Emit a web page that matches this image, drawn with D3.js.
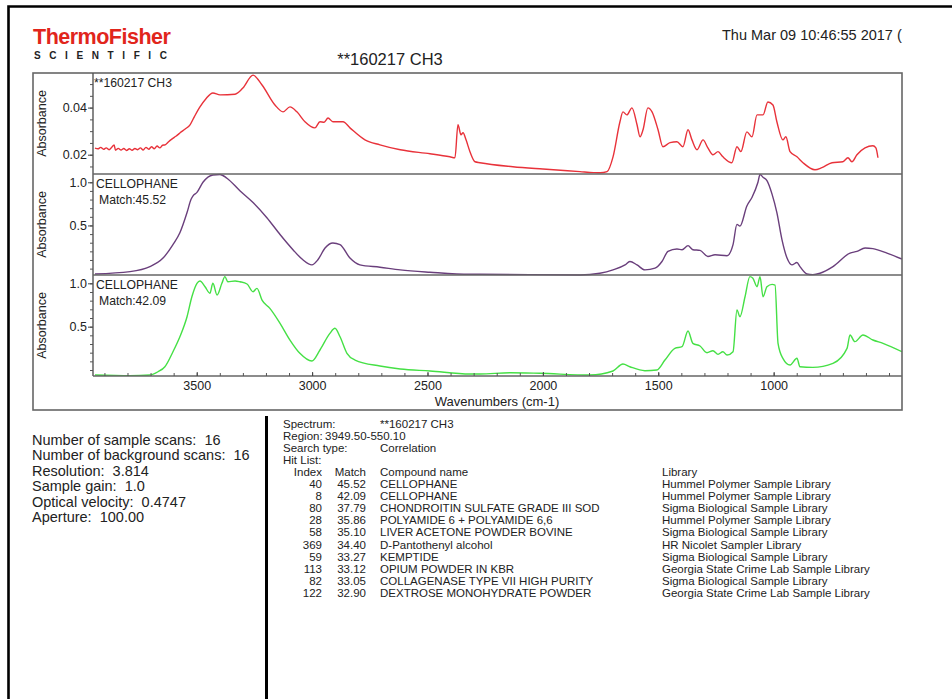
<!DOCTYPE html>
<html>
<head>
<meta charset="utf-8">
<script src="https://cdn.jsdelivr.net/npm/d3@7"></script>
<style>
  html, body { margin: 0; padding: 0; background: #fff; }
  svg { display: block; font-family: "Liberation Sans", Arial, sans-serif; }
</style>
</head>
<body>
<svg id="page" width="952" height="699"></svg>
<script>
// ---- spectra: [wavenumber (cm-1), absorbance] ----
const sampleSpectrum = [
  [3941,0.0228],[3928,0.0225],[3916,0.0231],[3904,0.0223],[3892,0.0229],[3880,0.0221],[3868,0.0232],
  [3858,0.0241],[3852,0.0219],[3840,0.0227],[3828,0.0220],[3816,0.0226],[3804,0.0218],[3792,0.0225],
  [3780,0.0219],[3768,0.0226],[3756,0.0221],[3744,0.0229],[3732,0.0220],[3720,0.0231],[3708,0.0223],
  [3696,0.0234],[3684,0.0225],[3672,0.0237],[3660,0.0229],[3648,0.0240],[3637,0.0242],[3622,0.0255],
  [3608,0.0266],[3594,0.0276],[3584,0.0283],[3572,0.0293],[3550,0.0309],[3529,0.0327],[3510,0.0362],
  [3486,0.0403],[3460,0.0438],[3430,0.0462],[3399,0.0454],[3334,0.0457],[3300,0.0483],[3256,0.0538],
  [3217,0.0496],[3161,0.0411],[3126,0.0382],[3096,0.0403],[3066,0.0382],[3031,0.0340],[2988,0.0314],
  [2966,0.0340],[2948,0.0338],[2931,0.0356],[2910,0.0340],[2866,0.0340],[2836,0.0314],[2771,0.0263],
  [2706,0.0242],[2618,0.0221],[2489,0.0204],[2403,0.0191],[2381,0.0187],[2368,0.0327],[2355,0.0285],
  [2346,0.0293],[2333,0.0263],[2316,0.0213],[2294,0.0170],[2273,0.0166],[2130,0.0149],[2000,0.0139],
  [1839,0.0128],[1780,0.0124],[1752,0.0123],[1722,0.0128],[1696,0.0191],[1666,0.0340],[1653,0.0382],
  [1636,0.0369],[1614,0.0399],[1592,0.0327],[1579,0.0276],[1566,0.0306],[1545,0.0399],[1527,0.0382],
  [1501,0.0306],[1480,0.0234],[1449,0.0251],[1419,0.0255],[1393,0.0234],[1371,0.0306],[1354,0.0263],
  [1332,0.0221],[1306,0.0263],[1285,0.0229],[1263,0.0200],[1241,0.0213],[1220,0.0191],[1181,0.0166],
  [1159,0.0234],[1142,0.0213],[1116,0.0297],[1094,0.0276],[1072,0.0369],[1046,0.0369],[1025,0.0424],
  [1003,0.0411],[986,0.0340],[960,0.0263],[947,0.0276],[929,0.0213],[899,0.0191],[873,0.0166],
  [821,0.0136],[791,0.0145],[747,0.0166],[700,0.0170],[678,0.0187],[661,0.0170],[639,0.0200],
  [604,0.0229],[570,0.0238],[557,0.0229],[548,0.0187]
];

const cellophane40 = [
  [3941,-0.062],[3789,-0.035],[3703,0.023],[3646,0.122],[3603,0.278],[3573,0.415],[3542,0.649],
  [3525,0.800],[3516,0.843],[3499,0.883],[3473,1.000],[3430,1.085],[3399,1.091],[3369,1.047],
  [3313,0.902],[3256,0.766],[3196,0.590],[3139,0.395],[3083,0.219],[3040,0.102],[3001,0.043],
  [2975,0.102],[2944,0.239],[2910,0.297],[2879,0.278],[2836,0.122],[2793,0.043],[2706,0.016],
  [2618,-0.015],[2489,-0.042],[2316,-0.066],[2273,-0.066],[1839,-0.074],[1753,-0.054],[1696,-0.015],
  [1644,0.043],[1623,0.082],[1592,0.043],[1558,-0.015],[1514,0.005],[1484,0.082],[1458,0.199],
  [1419,0.227],[1397,0.219],[1371,0.266],[1350,0.219],[1319,0.211],[1285,0.141],[1254,0.160],
  [1202,0.149],[1176,0.278],[1159,0.512],[1146,0.492],[1116,0.726],[1094,0.824],[1068,1.000],
  [1059,1.090],[1046,1.059],[1029,1.019],[1007,0.863],[986,0.649],[964,0.336],[942,0.122],
  [921,0.043],[899,0.070],[886,0.023],[856,-0.062],[830,-0.070],[799,-0.054],[743,0.023],
  [669,0.180],[639,0.199],[604,0.239],[570,0.231],[509,0.180],[444,0.110]
];

const cellophane8 = [
  [3941,-0.058],[3789,-0.066],[3703,-0.058],[3668,-0.020],[3638,0.038],[3603,0.211],[3573,0.384],
  [3542,0.615],[3521,0.845],[3499,1.000],[3486,1.027],[3464,0.961],[3443,0.885],[3430,1.000],
  [3412,0.865],[3391,1.000],[3378,1.077],[3365,1.018],[3334,1.027],[3313,1.018],[3282,0.992],
  [3256,0.903],[3239,0.942],[3217,0.807],[3183,0.711],[3139,0.539],[3096,0.346],[3053,0.193],
  [3001,0.104],[2966,0.231],[2923,0.423],[2901,0.481],[2879,0.384],[2849,0.193],[2814,0.115],
  [2706,0.046],[2618,0.012],[2489,-0.011],[2316,-0.046],[2273,-0.046],[2143,-0.031],[2013,-0.038],
  [1796,-0.058],[1696,-0.011],[1653,0.069],[1623,0.038],[1558,-0.008],[1506,0.000],[1471,0.115],
  [1428,0.250],[1397,0.269],[1371,0.450],[1350,0.308],[1319,0.277],[1289,0.200],[1263,0.223],
  [1241,0.181],[1220,0.211],[1202,0.173],[1176,0.211],[1159,0.692],[1146,0.615],[1124,0.845],
  [1103,1.077],[1090,1.058],[1072,0.961],[1059,1.077],[1046,0.845],[1029,0.961],[1007,0.988],
  [994,0.980],[981,0.308],[960,0.135],[929,0.058],[899,0.135],[886,0.038],[830,0.031],
  [743,0.077],[682,0.250],[669,0.404],[648,0.327],[613,0.404],[570,0.346],[526,0.308],[444,0.211]
];

// ---- panel texts and ticks ----
const panelNames   = ["**160217 CH3", "CELLOPHANE", "CELLOPHANE"];
const panelMatches = [null, "45.52", "42.09"];
const panelYDomains = [[0.0118, 0.0547], [-0.074, 1.096], [-0.069, 1.096]];
const panelYTicks  = [[0.02, 0.04], [0.5, 1.0], [0.5, 1.0]];
const panelYMinor  = [d3.range(0.015, 0.0526, 0.005), d3.range(0, 1.05, 0.1), d3.range(0, 1.05, 0.1)];
const panelYFormat = [".2f", ".1f", ".1f"];
const xTicks = [3500, 3000, 2500, 2000, 1500, 1000];
const xMinorTicks = d3.range(3900, 499, -100);
const xDomain = [3949.5, 443.8];

// ---- report texts ----
const reportTitle = "**160217 CH3";
const reportDate = "Thu Mar 09 10:46:55 2017 (";
const scanLabels = ["Number of sample scans:", "Number of background scans:", "Resolution:",
                    "Sample gain:", "Optical velocity:", "Aperture:"];
const scanValues = ["16", "16", "3.814", "1.0", "0.4747", "100.00"];
const searchSpectrum = "**160217 CH3";
const searchRegion = "3949.50-550.10";
const searchType = "Correlation";
const hitIndex = [40, 8, 80, 28, 58, 369, 59, 113, 82, 122];
const hitMatch = ["45.52", "42.09", "37.79", "35.86", "35.10", "34.40", "33.27", "33.12", "33.05", "32.90"];
const hitNames = ["CELLOPHANE", "CELLOPHANE", "CHONDROITIN SULFATE GRADE III SOD",
  "POLYAMIDE 6 + POLYAMIDE 6,6", "LIVER ACETONE POWDER BOVINE", "D-Pantothenyl alcohol",
  "KEMPTIDE", "OPIUM POWDER IN KBR", "COLLAGENASE TYPE VII HIGH PURITY", "DEXTROSE MONOHYDRATE POWDER"];
const hitLibraries = ["Hummel Polymer Sample Library", "Hummel Polymer Sample Library",
  "Sigma Biological Sample Library", "Hummel Polymer Sample Library", "Sigma Biological Sample Library",
  "HR Nicolet Sampler Library", "Sigma Biological Sample Library", "Georgia State Crime Lab Sample Library",
  "Sigma Biological Sample Library", "Georgia State Crime Lab Sample Library"];

const spectra = [sampleSpectrum, cellophane40, cellophane8];
const lineColors = ["#e8323a", "#6a3f7c", "#45e045"];

// ---- layout ----
const TXT = "#222";
const frame = { left: 33, top: 73, right: 902, bottom: 410 };
const plot = { left: 93, right: 902 };
const panelTop = [73, 174, 275];
const panelH = 101;
const axisY = panelTop[2] + panelH;

const svg = d3.select("#page");
svg.append("rect").attr("width", 952).attr("height", 699).attr("fill", "#fff");

// page border
svg.append("path").attr("d", "M8.5,699 V6.5 H952")
  .attr("fill", "none").attr("stroke", "#000").attr("stroke-width", 2.6);

// logo
svg.append("text").attr("x", 33).attr("y", 44).text("ThermoFisher")
  .attr("font-size", 21.5).attr("font-weight", "bold").attr("letter-spacing", -0.5).attr("fill", "#e1251b");
svg.append("text").attr("x", 34).attr("y", 58.5).text("SCIENTIFIC")
  .attr("font-size", 10).attr("font-weight", "bold").attr("letter-spacing", 8.6).attr("fill", "#222");

// title + date
svg.append("text").attr("x", 390).attr("y", 65).attr("text-anchor", "middle")
  .attr("font-size", 16.5).attr("fill", TXT).text(reportTitle);
svg.append("text").attr("x", 722).attr("y", 40)
  .attr("font-size", 14.5).attr("fill", TXT).text(reportDate);

// x scale shared by all panels
const x = d3.scaleLinear().domain(xDomain).range([plot.left, plot.right]);

svg.append("defs").append("clipPath").attr("id", "plotClip")
  .append("rect").attr("x", plot.left).attr("y", panelTop[0])
  .attr("width", plot.right - plot.left).attr("height", axisY - panelTop[0]);

spectra.forEach((data, i) => {
  const top = panelTop[i];
  const y = d3.scaleLinear().domain(panelYDomains[i]).range([top + panelH, top]);

  // minor ticks
  const gMinor = svg.append("g").attr("transform", `translate(${plot.left},0)`)
    .call(d3.axisLeft(y).tickValues(panelYMinor[i]).tickSize(3).tickFormat(""));
  gMinor.select(".domain").remove();
  gMinor.selectAll("line").attr("stroke", "#555");

  // major ticks + labels
  const gMajor = svg.append("g").attr("transform", `translate(${plot.left},0)`)
    .call(d3.axisLeft(y).tickValues(panelYTicks[i]).tickSize(5).tickPadding(1)
      .tickFormat(d3.format(panelYFormat[i])));
  gMajor.select(".domain").remove();
  gMajor.selectAll("line").attr("stroke", "#444");
  gMajor.selectAll("text").attr("font-size", 12.5).attr("fill", TXT)
    .attr("font-family", "'Liberation Sans', Arial, sans-serif");

  // y title
  svg.append("text")
    .attr("transform", `translate(46,${top + panelH / 2}) rotate(-90)`)
    .attr("text-anchor", "middle").attr("font-size", 12.5).attr("fill", TXT).text("Absorbance");

  // spectrum trace
  const line = d3.line().x(d => x(d[0])).y(d => y(d[1])).curve(d3.curveMonotoneX);
  svg.append("path").datum(data).attr("d", line).attr("clip-path", "url(#plotClip)")
    .attr("fill", "none").attr("stroke", lineColors[i]).attr("stroke-width", 1.4)
    .attr("stroke-linejoin", "round");

  // panel captions
  svg.append("text").attr("x", i === 0 ? 94 : 96).attr("y", top + 13.5)
    .attr("font-size", 12.2).attr("fill", TXT).text(panelNames[i]);
  if (panelMatches[i]) {
    svg.append("text").attr("x", 99).attr("y", top + 29.5)
      .attr("font-size", 12.2).attr("fill", TXT).text("Match:" + panelMatches[i]);
  }
});

// frames and separators
svg.append("rect").attr("x", frame.left).attr("y", frame.top)
  .attr("width", frame.right - frame.left).attr("height", frame.bottom - frame.top)
  .attr("fill", "none").attr("stroke", "#666").attr("stroke-width", 1.6);
svg.append("line").attr("x1", plot.left).attr("x2", plot.left).attr("y1", panelTop[0]).attr("y2", axisY)
  .attr("stroke", "#555").attr("stroke-width", 1.4);
[panelTop[1], panelTop[2], axisY].forEach(yy => {
  svg.append("line").attr("x1", plot.left).attr("x2", plot.right).attr("y1", yy).attr("y2", yy)
    .attr("stroke", "#666").attr("stroke-width", 1.4);
});

// x axis
const gxMinor = svg.append("g").attr("transform", `translate(0,${axisY})`)
  .call(d3.axisBottom(x).tickValues(xMinorTicks).tickSize(-3).tickFormat(""));
gxMinor.select(".domain").remove();
gxMinor.selectAll("line").attr("stroke", "#555");
const gx = svg.append("g").attr("transform", `translate(0,${axisY})`)
  .call(d3.axisBottom(x).tickValues(xTicks).tickSize(-4).tickPadding(5).tickFormat(d3.format("d")));
gx.select(".domain").remove();
gx.selectAll("line").attr("stroke", "#444");
gx.selectAll("text").attr("font-size", 12.5).attr("fill", TXT)
  .attr("font-family", "'Liberation Sans', Arial, sans-serif");
svg.append("text").attr("x", 497).attr("y", 406).attr("text-anchor", "middle")
  .attr("font-size", 13).attr("fill", TXT).text("Wavenumbers (cm-1)");

// collection parameters
scanLabels.forEach((lab, i) => {
  svg.append("text").attr("x", 32).attr("y", 445 + i * 15.4)
    .attr("font-size", 14.5).attr("fill", TXT)
    .text(lab + "\u00a0\u00a0" + scanValues[i]);
});

// divider
svg.append("line").attr("x1", 266.5).attr("x2", 266.5).attr("y1", 416).attr("y2", 699)
  .attr("stroke", "#000").attr("stroke-width", 3);

// search results
const rowY = k => 427.5 + k * 12.1;
const fs = 11.5;
function put(xx, k, str, anchor) {
  svg.append("text").attr("x", xx).attr("y", rowY(k)).attr("font-size", fs).attr("fill", TXT)
    .attr("text-anchor", anchor || "start").text(str);
}
put(283, 0, "Spectrum:"); put(380, 0, searchSpectrum);
put(283, 1, "Region:");   put(325, 1, searchRegion);
put(283, 2, "Search type:"); put(380, 2, searchType);
put(283, 3, "Hit List:");
put(322, 4, "Index", "end"); put(366, 4, "Match", "end");
put(380, 4, "Compound name"); put(662, 4, "Library");
hitIndex.forEach((idx, i) => {
  put(322, 5 + i, String(idx), "end");
  put(366, 5 + i, hitMatch[i], "end");
  put(380, 5 + i, hitNames[i]);
  put(662, 5 + i, hitLibraries[i]);
});
</script>
</body>
</html>
